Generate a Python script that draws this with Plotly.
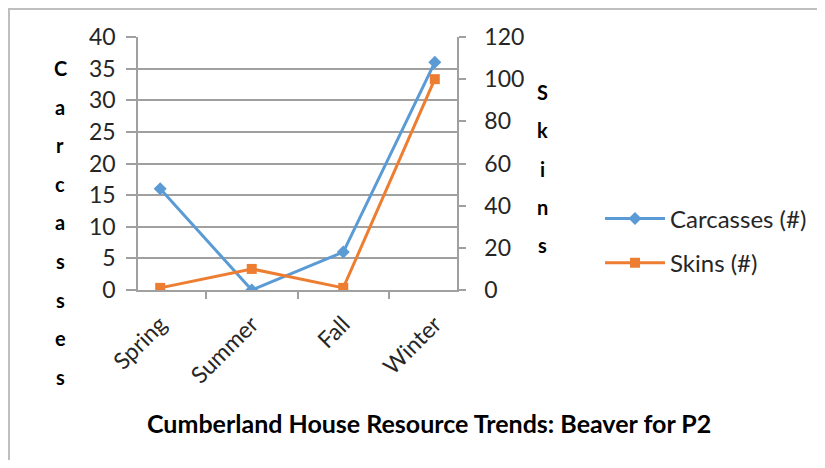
import plotly.graph_objects as go

categories = ["Spring", "Summer", "Fall", "Winter"]
carcasses = [16, 0, 6, 36]
skins = [1, 10, 1, 100]
left_ticks = list(range(0, 41, 5))
right_ticks = list(range(0, 121, 20))
title_text = "Cumberland House Resource Trends: Beaver for P2"
left_title = "Carcasses"
right_title = "Skins"

# page has an 8px body margin; the figure is placed so that it fits inside the window
OFF = 8
W, H = 825 - OFF, 468 - 2 * OFF
PL, PR, PT, PB = 138, 457, 37, 290          # plot area in page pixels
L, T = PL - OFF, PT - OFF
R, B = W - (PR - OFF), H - (PB - OFF)
PW, PH = PR - PL, PB - PT

def px_x(px):
    return (px - PL) / PW

def px_y(py):
    return (PB - py) / PH

FONT = "Lato"
BLUE = "#5B9BD5"
ORANGE = "#ED7D31"
GRID = "#A0A0A0"
TXT = "#262626"

fig = go.Figure()
fig.add_trace(go.Scatter(
    x=categories, y=carcasses, name="Carcasses (#)", mode="lines+markers",
    line=dict(color=BLUE, width=3), marker=dict(symbol="diamond", size=10, color=BLUE),
    legendgroup="a", yaxis="y"))
fig.add_trace(go.Scatter(
    x=categories, y=skins, name="Skins (#)", mode="lines+markers",
    line=dict(color=ORANGE, width=3), marker=dict(symbol="square", size=10, color=ORANGE),
    legendgroup="b", yaxis="y2"))

annotations = []
for i, ch in enumerate(left_title):
    annotations.append(dict(text=ch, x=px_x(60), y=px_y(68 + i * 38.6), xref="paper", yref="paper",
                            showarrow=False, xanchor="center", yanchor="middle",
                            font=dict(family=FONT, size=20, color="#000000", weight="bold")))
for i, ch in enumerate(right_title):
    annotations.append(dict(text=ch, x=px_x(542), y=px_y(92 + i * 38.3), xref="paper", yref="paper",
                            showarrow=False, xanchor="center", yanchor="middle",
                            font=dict(family=FONT, size=20, color="#000000", weight="bold")))
annotations.append(dict(text=title_text, x=px_x(429), y=px_y(423), xref="paper", yref="paper",
                        showarrow=False, xanchor="center", yanchor="middle",
                        font=dict(family=FONT, size=25, color="#000000", weight="bold")))

fig.update_layout(
    width=W, height=H,
    margin=dict(l=L, r=R, t=T, b=B, autoexpand=False),
    paper_bgcolor="white", plot_bgcolor="white",
    font=dict(family=FONT, size=22, color=TXT),
    showlegend=True,
    legend=dict(x=px_x(600), y=px_y(241), xanchor="left", yanchor="middle",
                font=dict(family=FONT, size=24, color=TXT),
                traceorder="grouped", tracegroupgap=10, itemwidth=60,
                bgcolor="rgba(0,0,0,0)"),
    xaxis=dict(type="category", showgrid=False, showline=True, linecolor=GRID, linewidth=1.5,
               ticks="outside", tickson="boundaries", ticklen=7, tickcolor=GRID, tickwidth=1.5,
               tickangle=-45, tickfont=dict(family=FONT, size=23, color=TXT),
               ticklabelstandoff=10, zeroline=False),
    yaxis=dict(range=[0, 40], tickvals=left_ticks, showgrid=True, gridcolor=GRID, gridwidth=1.5,
               showline=True, linecolor=GRID, linewidth=1.5, ticks="outside", ticklen=10,
               tickcolor=GRID, tickwidth=1.5, zeroline=False, ticklabelstandoff=6,
               tickfont=dict(family=FONT, size=23, color=TXT)),
    yaxis2=dict(range=[0, 120], tickvals=right_ticks, overlaying="y", side="right", showgrid=False,
                showline=True, linecolor=GRID, linewidth=1.5, ticks="outside", ticklen=7,
                tickcolor=GRID, tickwidth=1.5, zeroline=False, ticklabelstandoff=14,
                tickfont=dict(family=FONT, size=23, color=TXT)),
    annotations=annotations,
    shapes=[dict(type="rect", xref="paper", yref="paper",
                 x0=px_x(OFF + 1), x1=px_x(900), y0=px_y(600), y1=px_y(OFF + 1),
                 line=dict(color="#BFBFBF", width=2), layer="below")],
)

fig.write_html("out.html")
